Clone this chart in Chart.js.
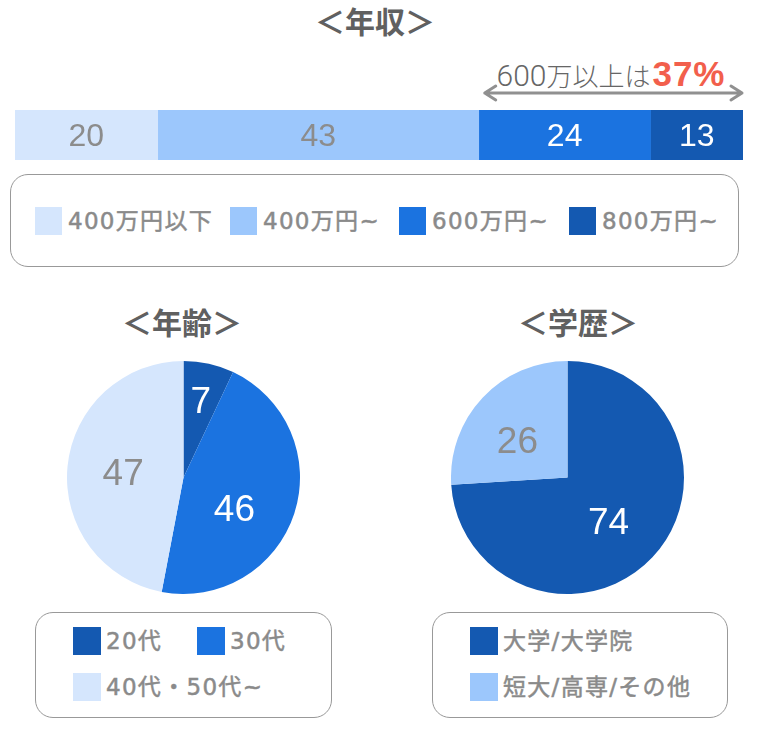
<!DOCTYPE html>
<html lang="ja">
<head>
  <meta charset="UTF-8">
  <title>年収・年齢・学歴</title>
  <script src="https://cdn.jsdelivr.net/npm/chart.js"></script>
  <style>
    body { margin: 0; background: #fff; }
    #wrap { position: relative; width: 760px; height: 730px; overflow: hidden; font-family: "DejaVu Sans", "Noto Sans CJK JP", sans-serif; }
    canvas { position: absolute; }
    .title { position: absolute; transform: translate(-50%, -50%); font: bold 30px "Noto Sans CJK JP"; color: #606060; line-height: 1; white-space: nowrap; }
    .box { position: absolute; border: 1px solid #999; border-radius: 18px; box-sizing: border-box; }
    .item { position: absolute; display: flex; align-items: center; white-space: nowrap; }
    .item i { display: block; flex: none; }
    .item span { font-family: "DejaVu Sans", "Noto Sans CJK JP", sans-serif; font-size: 23px; letter-spacing: 1.3px; color: #8a8a8a;
                 line-height: 1; -webkit-text-stroke: 0.5px #8a8a8a; }
    #note { position: absolute; left: 611px; top: 74px; transform: translate(-50%, -50%); white-space: nowrap; line-height: 1;
            font: 300 26px "Noto Sans CJK JP"; color: #666; }
    #note .n { font: 300 30px Roboto, "Liberation Sans"; }
    #note b { font: bold 35px "Liberation Sans", Arial; color: #f25f4c; letter-spacing: 1px; margin-left: 2px; }
  </style>
</head>
<body>
<div id="wrap">
  <div class="title" style="left:375px; top:20px">＜年収＞</div>
  <div id="note"><span class="n">600</span>万以上は<b>37%</b></div>
  <canvas id="incomeBar" width="760" height="100" style="left:0; top:60px"></canvas>
  <div class="box" style="left:10px; top:174px; width:729px; height:93px"></div>

  <div class="title" style="left:182px; top:321px">＜年齢＞</div>
  <div class="title" style="left:578px; top:321px">＜学歴＞</div>
  <canvas id="agePie" width="233" height="233" style="left:67px; top:361px"></canvas>
  <canvas id="eduPie" width="233" height="233" style="left:451px; top:361px"></canvas>
  <div class="box" style="left:35px; top:612px; width:297px; height:106px"></div>
  <div class="box" style="left:432px; top:612px; width:296px; height:106px"></div>
</div>

<script>
  // 年収
  const incomeLabels = ["400万円以下", "400万円~", "600万円~", "800万円~"];
  const incomeValues = [19.6, 44.1, 23.6, 12.7];
  const incomeText = ["20", "43", "24", "13"];
  // 年齢
  const ageLabels = ["20代", "30代", "40代・50代~"];
  const ageValues = [7, 46, 47];
  // 学歴
  const eduLabels = ["大学/大学院", "短大/高専/その他"];
  const eduValues = [74, 26];

  const C_LIGHTEST = "#d5e6fd", C_LIGHT = "#9cc7fc", C_MID = "#1b73e0", C_DARK = "#1459b1";
  const GRAY_TEXT = "#8c8c8c";

  const incomeColors = [C_LIGHTEST, C_LIGHT, C_MID, C_DARK];
  const incomeTextColors = [GRAY_TEXT, GRAY_TEXT, "#fff", "#fff"];
  const ageColors = [C_DARK, C_MID, C_LIGHTEST];
  const ageTextColors = ["#fff", "#fff", GRAY_TEXT];
  const eduColors = [C_DARK, C_LIGHT];
  const eduTextColors = ["#fff", GRAY_TEXT];

  const wrap = document.getElementById("wrap");

  // 凡例（HTML）
  function makeLegend(labels, colors, pos, sq, gap) {
    labels.forEach((t, i) => {
      const d = document.createElement("div");
      d.className = "item";
      d.style.left = pos[i][0] + "px";
      d.style.top = pos[i][1] + "px";
      d.style.height = sq[1] + "px";
      d.innerHTML = `<i style="background:${colors[i]};width:${sq[0]}px;height:${sq[1]}px;margin-right:${gap}px"></i><span>${t}</span>`;
      wrap.appendChild(d);
    });
  }
  makeLegend(incomeLabels, incomeColors, [[35, 207], [230, 207], [399, 207], [569, 207]], [27, 28], 6);
  makeLegend(ageLabels, ageColors, [[73, 627], [197, 627], [73, 673]], [28, 28], 5);
  makeLegend(eduLabels, eduColors, [[470, 627], [470, 673]], [28, 28], 5);

  const numFont = size => `${size}px "Liberation Sans", Arial, sans-serif`;

  // 帯グラフの数値と矢印
  const barText = {
    id: "barText",
    afterDatasetsDraw(chart) {
      const ctx = chart.ctx;
      ctx.save();
      ctx.font = numFont(32);
      ctx.textAlign = "center";
      ctx.textBaseline = "alphabetic";
      chart.data.datasets.forEach((ds, i) => {
        const el = chart.getDatasetMeta(i).data[0];
        ctx.fillStyle = incomeTextColors[i];
        ctx.fillText(incomeText[i], (el.base + el.x) / 2, el.y + 32 * 0.358);
      });
      // 600万以上の範囲
      const xs = chart.scales.x;
      const x0 = xs.getPixelForValue(incomeValues[0] + incomeValues[1]) + 6;
      const x1 = xs.getPixelForValue(incomeValues.reduce((a, b) => a + b, 0)) - 1;
      const y = chart.chartArea.top - 17;
      ctx.strokeStyle = "#909090";
      ctx.lineWidth = 3;
      ctx.lineCap = "round";
      ctx.lineJoin = "round";
      ctx.beginPath();
      ctx.moveTo(x0, y); ctx.lineTo(x1, y);
      ctx.moveTo(x0 + 11, y - 7); ctx.lineTo(x0, y); ctx.lineTo(x0 + 11, y + 7);
      ctx.moveTo(x1 - 11, y - 7); ctx.lineTo(x1, y); ctx.lineTo(x1 - 11, y + 7);
      ctx.stroke();
      ctx.restore();
    }
  };

  new Chart(document.getElementById("incomeBar"), {
    type: "bar",
    data: {
      labels: ["年収"],
      datasets: incomeValues.map((v, i) => ({
        label: incomeLabels[i],
        data: [v],
        backgroundColor: incomeColors[i],
        borderWidth: 0,
        barPercentage: 1,
        categoryPercentage: 1
      }))
    },
    options: {
      indexAxis: "y",
      responsive: false,
      animation: false,
      events: [],
      layout: { padding: { left: 15, right: 17, top: 50, bottom: 0 } },
      scales: {
        x: { stacked: true, display: false, min: 0, max: incomeValues.reduce((a, b) => a + b, 0) },
        y: { stacked: true, display: false }
      },
      plugins: { legend: { display: false }, tooltip: { enabled: false } }
    },
    plugins: [barText]
  });

  // 円グラフの数値
  function pieText(textColors, radiusK, turnDeg) {
    return {
      id: "pieText",
      afterDatasetsDraw(chart) {
        const ctx = chart.ctx;
        const size = 37;
        ctx.save();
        ctx.font = numFont(size);
        ctx.textAlign = "center";
        ctx.textBaseline = "alphabetic";
        chart.getDatasetMeta(0).data.forEach((arc, i) => {
          const mid = (arc.startAngle + arc.endAngle) / 2 + turnDeg[i] * Math.PI / 180;
          const r = arc.outerRadius * radiusK[i];
          ctx.fillStyle = textColors[i];
          ctx.fillText(String(chart.data.datasets[0].data[i]), arc.x + Math.cos(mid) * r, arc.y + Math.sin(mid) * r + size * 0.358);
        });
        ctx.restore();
      }
    };
  }

  function makePie(id, values, labels, colors, textColors, radiusK, turnDeg) {
    new Chart(document.getElementById(id), {
      type: "pie",
      data: {
        labels: labels,
        datasets: [{ data: values, backgroundColor: colors, borderWidth: 0 }]
      },
      options: {
        responsive: false,
        animation: false,
        events: [],
        layout: { padding: 0 },
        plugins: { legend: { display: false }, tooltip: { enabled: false } }
      },
      plugins: [pieText(textColors, radiusK, turnDeg)]
    });
  }

  makePie("agePie", ageValues, ageLabels, ageColors, ageTextColors, [0.68, 0.51, 0.52], [0, 13, 0]);
  makePie("eduPie", eduValues, eduLabels, eduColors, eduTextColors, [0.51, 0.54], [3, -6]);
</script>
</body>
</html>
